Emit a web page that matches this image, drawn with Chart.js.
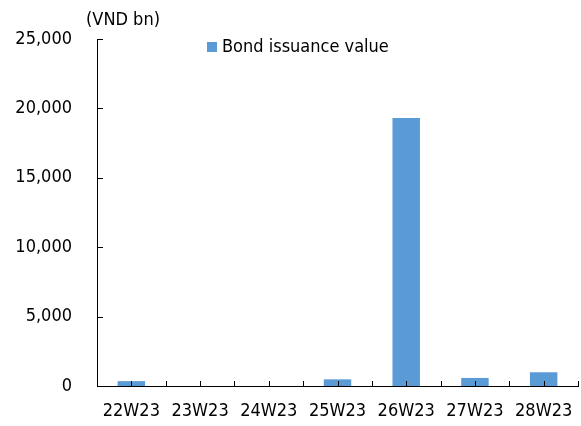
<!DOCTYPE html>
<html>
<head>
<meta charset="utf-8">
<script src="https://cdn.jsdelivr.net/npm/chart.js@4/dist/chart.umd.min.js"></script>
<style>
  html, body { margin: 0; padding: 0; background: #fff; }
  #wrap { width: 581px; height: 426px; position: relative; }
</style>
</head>
<body>
<div id="wrap"><canvas id="chart" width="581" height="426"></canvas></div>
<script>
// Weekly corporate bond issuance
const weeks = ['22W23', '23W23', '24W23', '25W23', '26W23', '27W23', '28W23'];
const bondIssuance = [350, 0, 0, 480, 19300, 580, 990];
const yTickValues = [0, 5000, 10000, 15000, 20000, 25000];
const seriesLabel = 'Bond issuance value';
const unitLabel = '(VND bn)';

const FONT_FAMILY = "'DejaVu Sans Condensed', 'DejaVu Sans', sans-serif";
const FONT_SIZE = 18;
const BAR_COLOR = '#5B9BD5';

// Short inward tick marks, the unit caption and an in-plot legend
const decorations = {
  id: 'decorations',
  afterDraw(chart) {
    const ctx = chart.ctx;
    const x = chart.scales.x;
    const y = chart.scales.y;
    const area = chart.chartArea;
    ctx.save();
    ctx.strokeStyle = '#000';
    ctx.lineWidth = 1;
    ctx.beginPath();
    // y ticks point right into the plot
    y.ticks.forEach(t => {
      const py = Math.round(y.getPixelForValue(t.value)) + 0.5;
      ctx.moveTo(area.left, py);
      ctx.lineTo(area.left + 6, py);
    });
    // x ticks at category centres and category boundaries
    const step = x.getPixelForValue(1) - x.getPixelForValue(0);
    for (let i = 0; i < weeks.length; i++) {
      const c = x.getPixelForValue(i);
      [c - step / 2, c, c + step / 2].forEach(px => {
        const rx = Math.round(px) + 0.5;
        ctx.moveTo(rx, area.bottom);
        ctx.lineTo(rx, area.bottom - 5);
      });
    }
    ctx.stroke();

    ctx.fillStyle = '#000';
    ctx.font = FONT_SIZE + 'px ' + FONT_FAMILY;
    ctx.textBaseline = 'middle';
    ctx.textAlign = 'left';
    ctx.fillText(unitLabel, 86, 20);

    // legend
    const ds = chart.data.datasets[0];
    ctx.fillStyle = ds.backgroundColor;
    ctx.fillRect(207, 42, 10, 10);
    ctx.fillStyle = '#000';
    ctx.fillText(ds.label, 222, 47);
    ctx.restore();
  }
};

new Chart(document.getElementById('chart'), {
  type: 'bar',
  data: {
    labels: weeks,
    datasets: [{
      label: seriesLabel,
      data: bondIssuance,
      backgroundColor: BAR_COLOR,
      borderWidth: 0,
      categoryPercentage: 1,
      barPercentage: 0.4
    }]
  },
  options: {
    responsive: false,
    animation: false,
    events: [],
    layout: { padding: { left: 0, right: 3, top: 39, bottom: 0 } },
    plugins: {
      legend: { display: false },
      tooltip: { enabled: false }
    },
    scales: {
      x: {
        grid: { display: false, drawTicks: false },
        border: { display: true, color: '#000', width: 1 },
        ticks: {
          color: '#000',
          padding: 15,
          maxRotation: 0,
          autoSkip: false,
          font: { family: FONT_FAMILY, size: FONT_SIZE }
        },
        afterFit(scale) {
          scale.height = 40;
          scale.paddingLeft = 0;
          scale.paddingRight = 0;
        }
      },
      y: {
        min: 0,
        max: 25000,
        grid: { display: false, drawTicks: false },
        border: { display: true, color: '#000', width: 1 },
        afterBuildTicks(scale) {
          scale.ticks = yTickValues.map(v => ({ value: v }));
        },
        ticks: {
          color: '#000',
          padding: 25,
          font: { family: FONT_FAMILY, size: FONT_SIZE },
          callback: v => v.toLocaleString('en-US')
        },
        afterFit(scale) {
          scale.width = 97;
          scale.paddingTop = 0;
          scale.paddingBottom = 0;
        }
      }
    }
  },
  plugins: [decorations]
});
</script>
</body>
</html>
